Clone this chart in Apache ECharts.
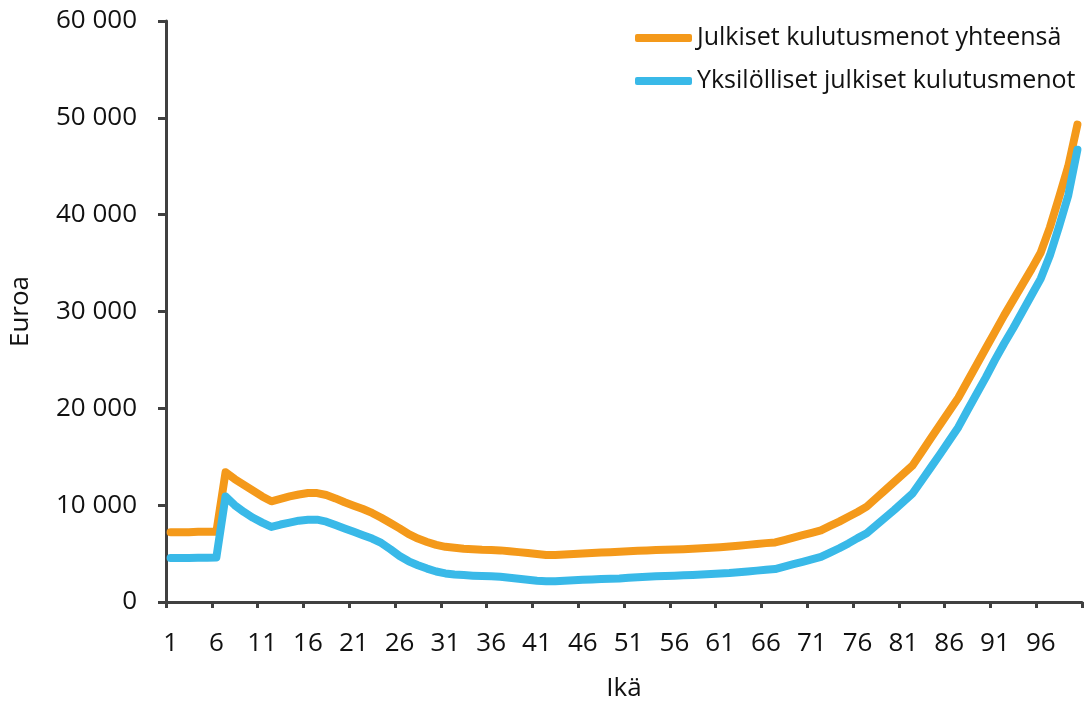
<!DOCTYPE html>
<html>
<head>
<meta charset="utf-8">
<script src="https://cdn.jsdelivr.net/npm/echarts@6/dist/echarts.min.js"></script>
<style>
  html, body { margin: 0; padding: 0; background: #fff; }
  #chart { width: 1086px; height: 707px; }
</style>
</head>
<body>
<div id="chart"></div>
<script>
// ages 1..100
var ages = [];
for (var a = 1; a <= 100; a++) ages.push(String(a));

var seriesNames = ['Julkiset kulutusmenot yhteensä', 'Yksilölliset julkiset kulutusmenot'];

// total public consumption expenditure per age (euro)
var totalSpend = [
  7200, 7200, 7200, 7250, 7250, 7250, 13400, 12700, 12100, 11500,
  10900, 10400, 10650, 10900, 11100, 11250, 11250, 11050, 10700, 10300,
  9950, 9600, 9200, 8700, 8150, 7600, 7000, 6550, 6200, 5900,
  5700, 5600, 5500, 5450, 5400, 5380, 5330, 5250, 5150, 5050,
  4950, 4850, 4850, 4900, 4950, 5000, 5050, 5100, 5150, 5200,
  5250, 5300, 5330, 5360, 5400, 5430, 5460, 5500, 5550, 5600,
  5650, 5720, 5800, 5900, 6000, 6080, 6150, 6400, 6650, 6900,
  7150, 7400, 7850, 8300, 8800, 9300, 9850, 10700, 11550, 12400,
  13250, 14100, 15500, 16900, 18300, 19700, 21100, 22800, 24500, 26200,
  27900, 29600, 31200, 32800, 34400, 36100, 38700, 41800, 45000, 49300
];

// individual public consumption expenditure per age (euro)
var individualSpend = [
  4550, 4550, 4550, 4570, 4580, 4600, 10900, 10000, 9300, 8700,
  8200, 7750, 8000, 8200, 8400, 8500, 8500, 8300, 7950, 7600,
  7250, 6900, 6550, 6100, 5450, 4750, 4200, 3800, 3450, 3150,
  2950, 2850, 2780, 2720, 2680, 2650, 2600, 2500, 2400, 2300,
  2200, 2150, 2150, 2200, 2250, 2300, 2330, 2370, 2400, 2430,
  2500, 2550, 2600, 2650, 2680, 2720, 2760, 2800, 2850, 2900,
  2950, 3000, 3080, 3160, 3240, 3320, 3400, 3650, 3900, 4150,
  4400, 4650, 5100, 5550, 6050, 6600, 7100, 7900, 8700, 9500,
  10350, 11200, 12550, 13900, 15250, 16650, 18050, 19800, 21500, 23200,
  25000, 26700, 28300, 30000, 31700, 33400, 35800, 38800, 42000, 46700
];

var FONT = '"Open Sans", "Noto Sans", sans-serif';
var AXIS_COLOR = '#404040';
var TEXT_COLOR = '#111111';

var chart = echarts.init(document.getElementById('chart'));

var option = {
  animation: false,
  textStyle: { fontFamily: FONT },
  grid: { left: 166, right: 4, top: 21, bottom: 100, containLabel: false },
  legend: {
    data: seriesNames,
    orient: 'vertical',
    left: 630,
    top: 16,
    itemGap: 9,
    itemWidth: 57,
    itemHeight: 8,
    icon: 'roundRect',
    textStyle: { fontFamily: FONT, fontSize: 25, color: TEXT_COLOR, lineHeight: 34 }
  },
  xAxis: {
    type: 'category',
    data: ages,
    boundaryGap: true,
    name: 'Ikä',
    nameLocation: 'middle',
    nameGap: 74,
    nameTextStyle: { fontFamily: FONT, fontSize: 26, color: TEXT_COLOR },
    axisLine: { lineStyle: { color: AXIS_COLOR, width: 3 } },
    axisTick: { show: true, interval: 4, length: 6, alignWithLabel: false, lineStyle: { color: AXIS_COLOR, width: 3 } },
    axisLabel: { interval: 4, margin: 29, fontFamily: FONT, fontSize: 26, color: TEXT_COLOR },
    splitLine: { show: false }
  },
  yAxis: {
    type: 'value',
    min: 0,
    max: 60000,
    interval: 10000,
    name: 'Euroa',
    nameLocation: 'middle',
    nameGap: 132,
    nameTextStyle: { fontFamily: FONT, fontSize: 26, color: TEXT_COLOR },
    axisLine: { show: true, lineStyle: { color: AXIS_COLOR, width: 3 } },
    axisTick: { show: true, length: 8, lineStyle: { color: AXIS_COLOR, width: 3 } },
    axisLabel: {
      margin: 29,
      fontFamily: FONT,
      fontSize: 26,
      color: TEXT_COLOR,
      formatter: function (v) {
        return String(v).replace(/\B(?=(\d{3})+(?!\d))/g, ' ');
      }
    },
    splitLine: { show: false }
  },
  series: [
    {
      name: seriesNames[0],
      type: 'line',
      data: totalSpend,
      showSymbol: false,
      color: '#F4991A',
      lineStyle: { width: 8, cap: 'round', join: 'round' }
    },
    {
      name: seriesNames[1],
      type: 'line',
      data: individualSpend,
      showSymbol: false,
      color: '#39B9E8',
      lineStyle: { width: 8, cap: 'round', join: 'round' }
    }
  ]
};

chart.setOption(option);
</script>
</body>
</html>
